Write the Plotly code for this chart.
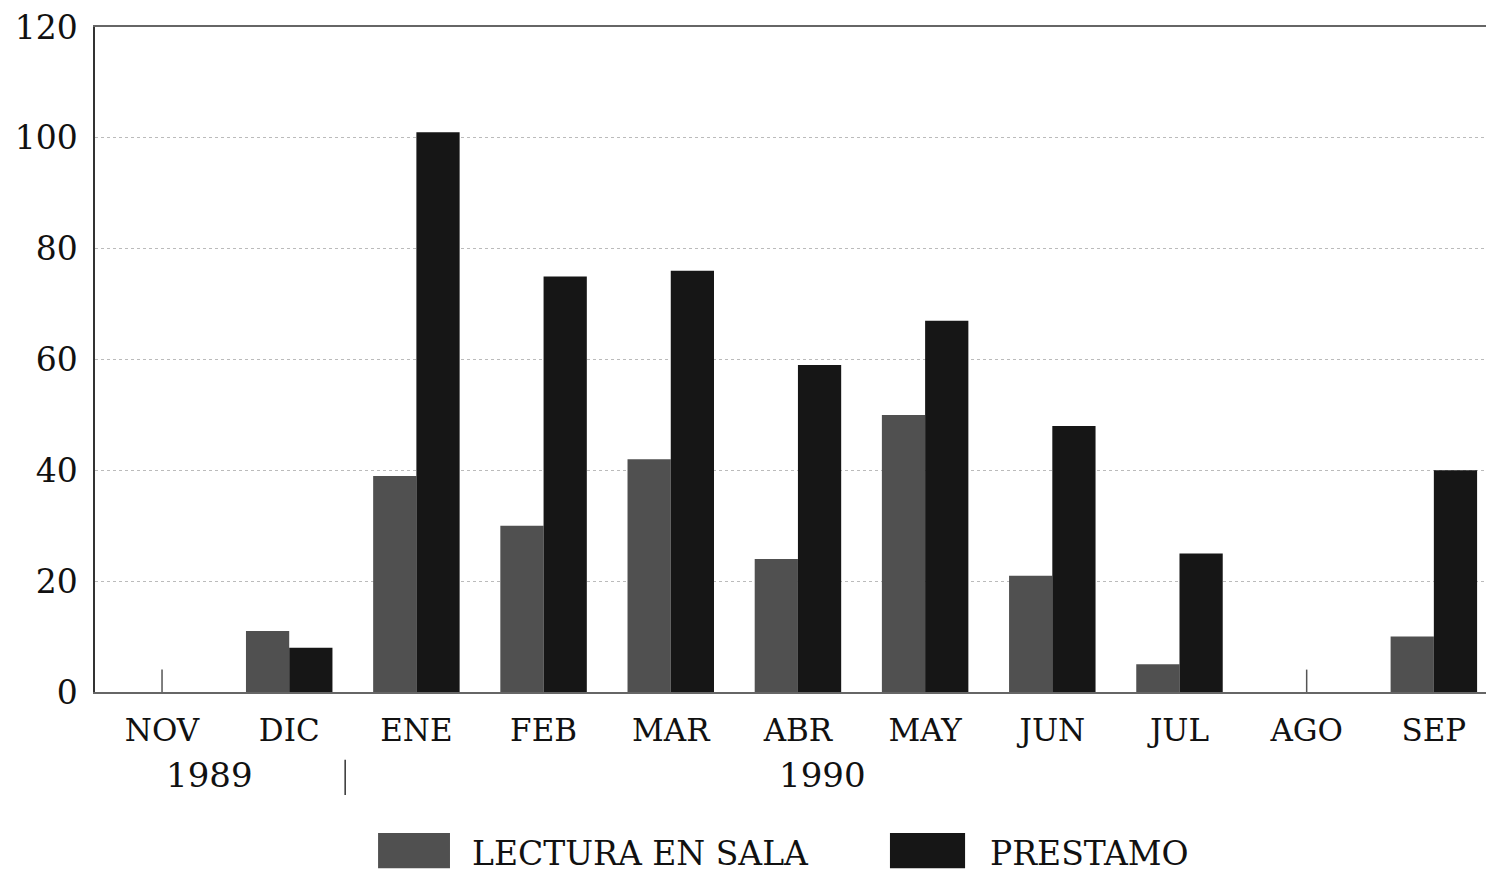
import plotly.graph_objects as go

months = ["NOV", "DIC", "ENE", "FEB", "MAR", "ABR", "MAY", "JUN", "JUL", "AGO", "SEP"]
lectura = [0, 11, 39, 30, 42, 24, 50, 21, 5, 0, 10]
prestamo = [0, 8, 101, 75, 76, 59, 67, 48, 25, 0, 40]
y_ticks = [0, 20, 40, 60, 80, 100, 120]
series_names = ["LECTURA EN SALA", "PRESTAMO"]
years = ["1989", "1990"]

FONT = "DejaVu Serif"
C_LECT = "#505050"
C_PREST = "#161616"

x = list(range(len(months)))
fig = go.Figure()
fig.add_trace(go.Bar(x=x, y=lectura, name=series_names[0], marker=dict(color=C_LECT, line=dict(width=0))))
fig.add_trace(go.Bar(x=x, y=prestamo, name=series_names[1], marker=dict(color=C_PREST, line=dict(width=0))))

# small stubs where both series are zero
zx = [i for i in x if lectura[i] == 0 and prestamo[i] == 0]
fig.add_trace(go.Scatter(x=zx, y=[0] * len(zx), mode="markers",
                         marker=dict(symbol="line-ns-open", size=32, color="#555",
                                     line=dict(color="#555", width=1.5)),
                         showlegend=False, hoverinfo="skip"))

fig.update_layout(
    width=1486, height=872,
    margin=dict(l=95, r=0, t=27, b=180),
    paper_bgcolor="white", plot_bgcolor="white",
    barmode="group", bargap=0.32, bargroupgap=0,
    showlegend=False,
    font=dict(family=FONT, color="#111"),
    xaxis=dict(range=[-0.527, 10.41], tickvals=x, ticktext=months, ticks="",
               tickfont=dict(size=31), showgrid=False, zeroline=False,
               showline=True, linecolor="#666", linewidth=1.5, mirror=True,
               ticklabelstandoff=10),
    yaxis=dict(range=[0, 120], tickvals=y_ticks, ticks="", tickfont=dict(size=33),
               showgrid=True, gridcolor="#bbbbbb", griddash="dot", gridwidth=1,
               zeroline=False, showline=True, linecolor="#333", linewidth=1.5,
               ticklabelstandoff=9),
)

# year labels under month labels
fig.add_annotation(x=0.37, y=-0.125, xref="x", yref="paper", text=years[0], showarrow=False,
                   font=dict(size=34, family=FONT), yanchor="middle")
fig.add_annotation(x=5.19, y=-0.125, xref="x", yref="paper", text=years[1], showarrow=False,
                   font=dict(size=34, family=FONT), yanchor="middle")
fig.add_shape(type="line", xref="x", yref="paper", x0=1.44, x1=1.44, y0=-0.102, y1=-0.155,
              line=dict(color="#333", width=1.5))

# legend drawn manually
leg = [(0.2035, 0.2552, 0.2696, C_LECT, series_names[0]),
       (0.5715, 0.6255, 0.642, C_PREST, series_names[1])]
for x0, x1, tx, col, name in leg:
    fig.add_shape(type="rect", xref="paper", yref="paper", x0=x0, x1=x1, y0=-0.212, y1=-0.265,
                  fillcolor=col, line=dict(width=0))
    fig.add_annotation(x=tx, y=-0.243, xref="paper", yref="paper", text=name, showarrow=False,
                       xanchor="left", yanchor="middle", font=dict(size=33, family=FONT))

fig.write_html("out.html", config={"displayModeBar": False},
               post_script="document.body.style.margin='0';document.body.style.overflow='hidden';")
